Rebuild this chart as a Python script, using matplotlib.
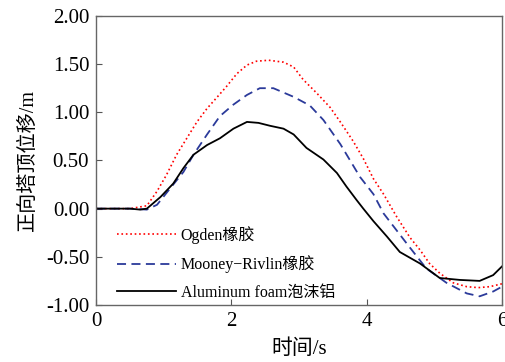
import matplotlib
matplotlib.use('Agg')
import matplotlib.pyplot as plt

plt.rcParams['font.family'] = ['Liberation Serif', 'Noto Sans CJK SC']

# Ogden rubber
t_ogden = [0, 0.5, 0.75, 0.90, 1.04, 1.19, 1.34, 1.49, 1.64, 1.78, 1.93, 2.08, 2.23,
           2.37, 2.55, 2.77, 2.92, 3.06, 3.26, 3.46, 3.61, 3.80, 3.95, 4.10, 4.25,
           4.44, 4.64, 4.79, 4.93, 5.08, 5.28, 5.48, 5.65, 5.82, 6.0]
y_ogden = [0, 0, 0.03, 0.18, 0.35, 0.56, 0.73, 0.90, 1.04, 1.15, 1.27, 1.40, 1.49,
           1.53, 1.54, 1.52, 1.47, 1.34, 1.20, 1.05, 0.90, 0.70, 0.52, 0.31, 0.15,
           -0.08, -0.30, -0.43, -0.57, -0.67, -0.77, -0.81, -0.82, -0.81, -0.78]

# Mooney-Rivlin rubber
t_mr = [0, 0.5, 0.75, 0.90, 1.14, 1.29, 1.44, 1.64, 1.83, 2.03, 2.23, 2.42, 2.62,
        2.92, 3.16, 3.36, 3.61, 3.90, 4.10, 4.25, 4.59, 4.88, 5.18, 5.48, 5.67,
        5.87, 6.0]
y_mr = [0, 0, -0.01, 0.04, 0.25, 0.38, 0.56, 0.77, 0.96, 1.08, 1.18, 1.25, 1.25,
        1.16, 1.07, 0.92, 0.67, 0.33, 0.15, -0.05, -0.36, -0.62, -0.77, -0.88, -0.91,
        -0.86, -0.81]

# Aluminum foam
t_al = [0, 0.5, 0.65, 0.75, 0.95, 1.14, 1.29, 1.44, 1.64, 1.83, 2.03, 2.23, 2.40,
        2.57, 2.77, 2.92, 3.11, 3.36, 3.56, 3.70, 3.85, 3.95, 4.10, 4.30, 4.49,
        4.79, 5.08, 5.38, 5.67, 5.87, 6.0]
y_al = [0, 0, -0.01, 0.0, 0.12, 0.26, 0.42, 0.56, 0.66, 0.73, 0.83, 0.90, 0.89,
        0.86, 0.83, 0.77, 0.63, 0.51, 0.37, 0.23, 0.09, 0.0, -0.13, -0.29, -0.45,
        -0.57, -0.72, -0.74, -0.75, -0.69, -0.60]

labels = ['Ogden橡胶', 'Mooney−Rivlin橡胶', 'Aluminum foam泡沫铝']
xticks = [0, 2, 4, 6]
yticks = [-1.0, -0.5, 0.0, 0.5, 1.0, 1.5, 2.0]

fig = plt.figure(figsize=(5.06, 3.62), dpi=100, facecolor='white')
ax = fig.add_axes([0.19, 0.1575, 0.802, 0.7985])

ax.plot(t_ogden, y_ogden, color='red', linestyle=':', linewidth=1.2, label=labels[0])
ax.plot(t_mr, y_mr, color='#2b3a9a', linestyle=(0, (5, 3)), linewidth=1.3, label=labels[1])
ax.plot(t_al, y_al, color='black', linestyle='-', linewidth=1.3, label=labels[2])

ax.set_xlim(0, 6)
ax.set_ylim(-1, 2)
ax.set_xticks(xticks)
ax.set_xticklabels([str(x) for x in xticks])
ax.set_yticks(yticks)
ax.set_yticklabels(['%.2f' % y for y in yticks])
ax.tick_params(direction='in', length=4, width=0.8, labelsize=15, color='#555555', pad=5)

for s in ax.spines.values():
    s.set_color('#666666')
    s.set_linewidth(1.0)

ax.set_xlabel('时间/s', fontsize=15, labelpad=6)
ax.set_ylabel('正向塔顶位移/m', fontsize=14.5, labelpad=6)

ax.legend(loc='upper left', bbox_to_anchor=(0.035, 0.295), frameon=False, fontsize=11.5,
          handlelength=3.7, handletextpad=0.3, labelspacing=0.72, borderaxespad=0)

plt.savefig('out.png', dpi=100)
